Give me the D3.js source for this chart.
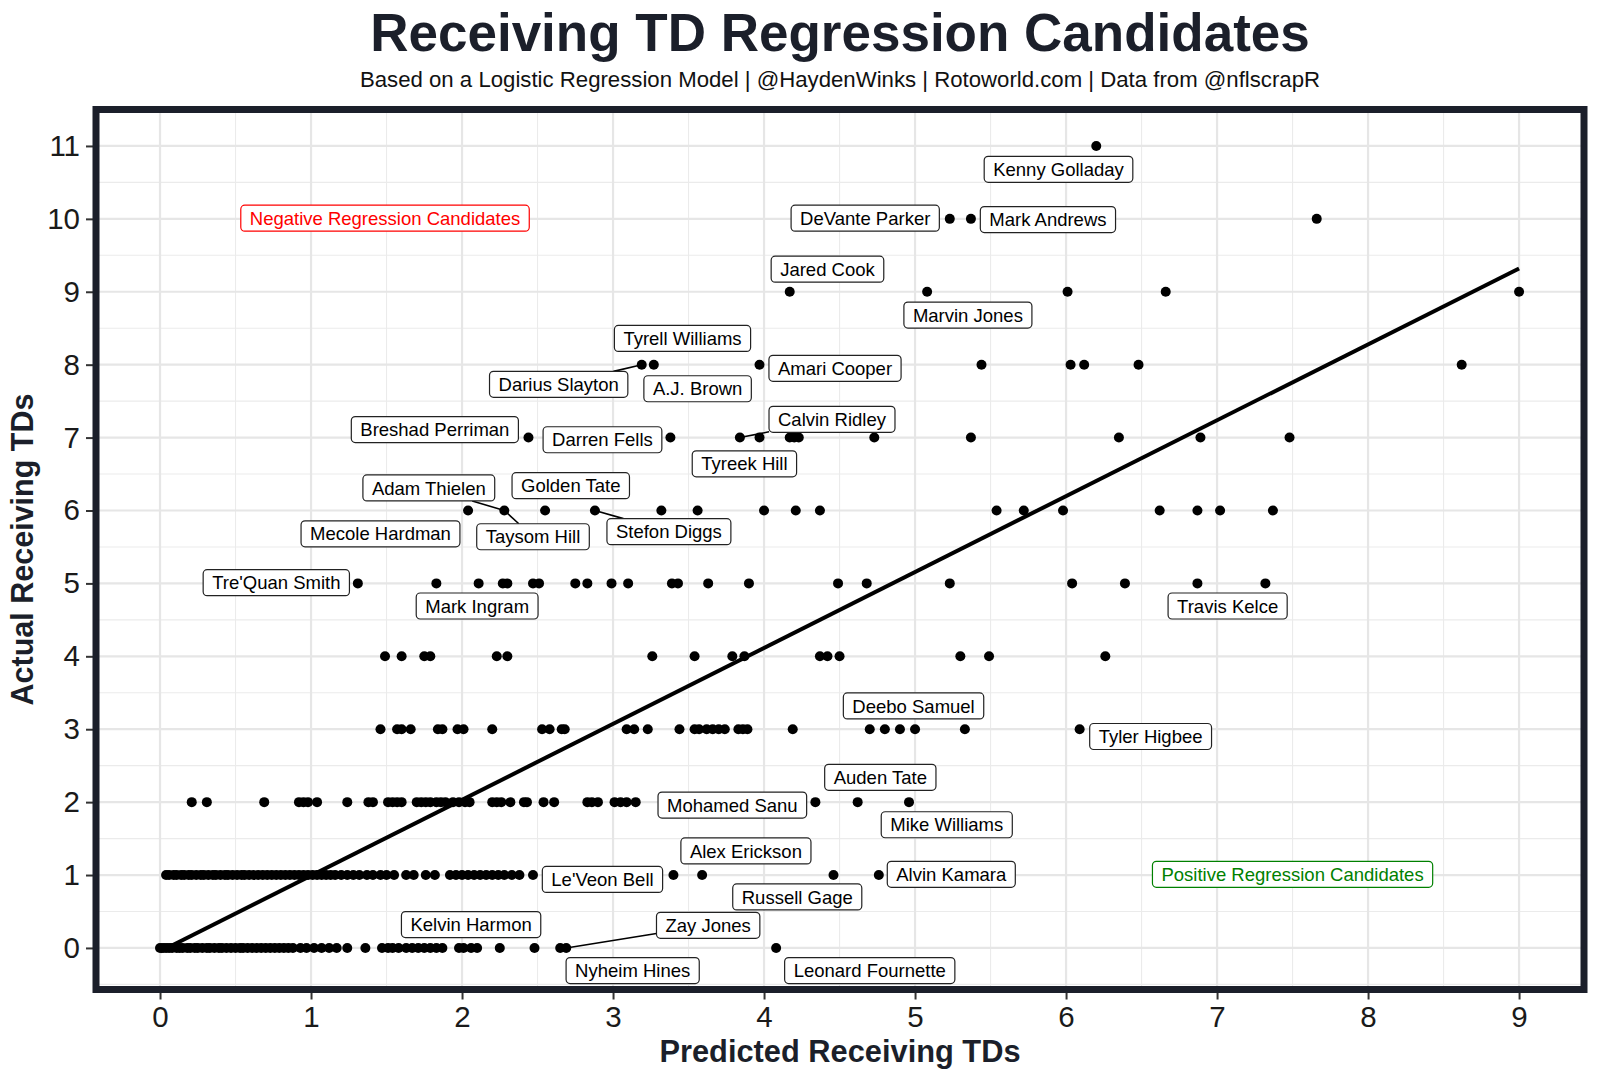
<!DOCTYPE html>
<html>
<head>
<meta charset="utf-8">
<script src="https://cdn.jsdelivr.net/npm/d3@7"></script>
<style>
body { margin: 0; background: #fff; }
text { font-family: "Liberation Sans", Arial, Helvetica, sans-serif; }
</style>
</head>
<body>
<svg id="chart" width="1600" height="1080"></svg>
<script>
// predicted receiving TDs, one list per actual TD count
var pred0 = [0.00,0.02,0.04,0.06,0.08,0.11,0.13,0.15,0.18,0.20,0.23,0.25,0.28,0.31,0.33,0.36,0.39,0.41,0.44,0.47,0.50,0.53,0.55,0.58,0.61,0.64,0.67,0.70,0.73,0.76,0.79,0.82,0.85,0.88,0.93,0.97,1.02,1.07,1.12,1.17,1.24,1.36,1.47,1.51,1.54,1.58,1.63,1.67,1.71,1.75,1.79,1.83,1.87,1.98,2.01,2.06,2.10,2.25,2.48,2.65,2.69,4.08];
var pred1 = [0.04,0.06,0.09,0.11,0.14,0.16,0.19,0.21,0.24,0.27,0.29,0.32,0.35,0.37,0.40,0.43,0.45,0.48,0.51,0.54,0.56,0.59,0.62,0.65,0.68,0.71,0.74,0.77,0.80,0.83,0.86,0.89,0.92,0.95,0.98,1.01,1.04,1.07,1.10,1.13,1.16,1.20,1.24,1.28,1.32,1.37,1.41,1.46,1.50,1.55,1.63,1.68,1.76,1.82,1.92,1.96,2.00,2.04,2.08,2.12,2.16,2.20,2.24,2.28,2.33,2.38,2.47,3.40,3.59,4.46,4.76];
var pred2 = [0.21,0.31,0.69,0.92,0.95,0.98,1.04,1.24,1.38,1.41,1.51,1.54,1.57,1.60,1.70,1.73,1.76,1.79,1.83,1.86,1.89,1.94,1.98,2.02,2.05,2.20,2.23,2.26,2.32,2.41,2.43,2.54,2.61,2.83,2.86,2.90,3.01,3.05,3.09,3.15,4.34,4.62,4.96];
var pred3 = [1.46,1.57,1.60,1.66,1.84,1.87,1.97,2.01,2.20,2.53,2.58,2.66,2.68,3.09,3.14,3.23,3.44,3.54,3.57,3.62,3.66,3.70,3.74,3.83,3.86,3.89,4.19,4.70,4.80,4.90,5.00,5.33,6.09];
var pred4 = [1.49,1.60,1.75,1.79,2.23,2.30,3.26,3.54,3.79,3.87,4.37,4.42,4.50,5.30,5.49,6.26];
var pred5 = [1.31,1.83,2.11,2.27,2.30,2.47,2.51,2.75,2.83,2.99,3.10,3.39,3.43,3.63,3.90,4.49,4.68,5.23,6.04,6.39,6.87,7.32];
var pred6 = [2.04,2.28,2.55,2.88,3.32,3.56,4.00,4.21,4.37,5.54,5.72,5.98,6.62,6.87,7.02,7.37];
var pred7 = [2.44,3.38,3.84,3.97,4.17,4.20,4.23,4.73,5.37,6.35,6.89,7.48];
var pred8 = [3.19,3.27,3.97,5.44,6.03,6.12,6.48,8.62];
var pred9 = [4.17,5.08,6.01,6.66,9.00];
var pred10 = [5.23,5.37,7.66];
var pred11 = [6.20];
var predByActual = [pred0,pred1,pred2,pred3,pred4,pred5,pred6,pred7,pred8,pred9,pred10,pred11];

// fitted line (ends of the lm fit)
var fitX = [0.00, 9.00];
var fitY = [-0.05, 9.32];

// player labels (data units of the label centre)
var labelNames = ["Kenny Golladay","DeVante Parker","Mark Andrews","Jared Cook","Marvin Jones","Tyrell Williams","Darius Slayton","A.J. Brown","Amari Cooper","Breshad Perriman","Darren Fells","Calvin Ridley","Tyreek Hill","Adam Thielen","Golden Tate","Mecole Hardman","Taysom Hill","Stefon Diggs","Tre'Quan Smith","Mark Ingram","Travis Kelce","Deebo Samuel","Tyler Higbee","Auden Tate","Mohamed Sanu","Mike Williams","Alex Erickson","Le'Veon Bell","Alvin Kamara","Russell Gage","Kelvin Harmon","Zay Jones","Nyheim Hines","Leonard Fournette"];
var labelX = [5.95,4.67,5.88,4.42,5.35,3.46,2.64,3.56,4.47,1.82,2.93,4.45,3.87,1.78,2.72,1.46,2.47,3.37,0.77,2.10,7.07,4.99,6.56,4.77,3.79,5.21,3.88,2.93,5.24,4.22,2.06,3.63,3.13,4.70];
var labelY = [10.68,10.01,9.99,9.31,8.68,8.36,7.73,7.67,7.95,7.11,6.97,7.25,6.64,6.31,6.34,5.68,5.64,5.71,5.01,4.69,4.69,3.32,2.90,2.34,1.96,1.69,1.33,0.94,1.01,0.70,0.32,0.31,-0.31,-0.31];

// labels that get a leader segment, and their points
var segNames = ["Darius Slayton","Calvin Ridley","Adam Thielen","Taysom Hill","Stefon Diggs","Zay Jones"];
var segX = [3.19,3.84,2.28,2.28,2.88,2.69];
var segY = [8,7,6,6,6,0];

// region notes
var noteText = ["Negative Regression Candidates","Positive Regression Candidates"];
var noteX = [1.49, 7.50];
var noteY = [10.01, 1.01];
var noteColor = ["#ff0000", "#008000"];

var xTicks = [0,1,2,3,4,5,6,7,8,9];
var yTicks = [0,1,2,3,4,5,6,7,8,9,10,11];

var ink = "#1b1f2a";
var panel = {left: 96, right: 1584, top: 109.5, bottom: 989.5};

var svg = d3.select("#chart");

var x = d3.scaleLinear().domain([-0.424, 9.43]).range([panel.left, panel.right]);
var y = d3.scaleLinear().domain([-0.57, 11.5]).range([panel.bottom, panel.top]);

// TITLE
svg.append("text")
    .attr("x", (panel.left + panel.right) / 2)
    .attr("y", 51)
    .attr("text-anchor", "middle")
    .attr("font-size", 53)
    .attr("font-weight", "bold")
    .attr("fill", ink)
    .text("Receiving TD Regression Candidates");

svg.append("text")
    .attr("x", (panel.left + panel.right) / 2)
    .attr("y", 87)
    .attr("text-anchor", "middle")
    .attr("font-size", 22.2)
    .attr("fill", "#111")
    .text("Based on a Logistic Regression Model | @HaydenWinks | Rotoworld.com | Data from @nflscrapR");

// GRID
var grid = svg.append("g");
var xMinor = d3.range(-0.5, 10, 1).filter(function (v) { return v > x.domain()[0] && v < x.domain()[1]; });
var yMinor = d3.range(-0.5, 12, 1).filter(function (v) { return v > y.domain()[0] && v < y.domain()[1]; });

grid.selectAll(".xminor").data(xMinor).enter().append("line")
    .attr("x1", function (d) { return x(d); }).attr("x2", function (d) { return x(d); })
    .attr("y1", panel.top).attr("y2", panel.bottom)
    .attr("stroke", "#ebebeb").attr("stroke-width", 1.1);
grid.selectAll(".yminor").data(yMinor).enter().append("line")
    .attr("y1", function (d) { return y(d); }).attr("y2", function (d) { return y(d); })
    .attr("x1", panel.left).attr("x2", panel.right)
    .attr("stroke", "#ebebeb").attr("stroke-width", 1.1);
grid.selectAll(".xmajor").data(xTicks).enter().append("line")
    .attr("x1", function (d) { return x(d); }).attr("x2", function (d) { return x(d); })
    .attr("y1", panel.top).attr("y2", panel.bottom)
    .attr("stroke", "#e6e6e6").attr("stroke-width", 2.2);
grid.selectAll(".ymajor").data(yTicks).enter().append("line")
    .attr("y1", function (d) { return y(d); }).attr("y2", function (d) { return y(d); })
    .attr("x1", panel.left).attr("x2", panel.right)
    .attr("stroke", "#e6e6e6").attr("stroke-width", 2.2);

// POINTS
var points = [];
predByActual.forEach(function (row, td) {
    row.forEach(function (p) { points.push({pred: p, td: td}); });
});

var plot = svg.append("g");
plot.selectAll("circle").data(points).enter().append("circle")
    .attr("cx", function (d) { return x(d.pred); })
    .attr("cy", function (d) { return y(d.td); })
    .attr("r", 5)
    .attr("fill", "#000");

// FIT LINE
var line = d3.line().x(function (d) { return x(d[0]); }).y(function (d) { return y(d[1]); });
plot.append("path")
    .datum(d3.zip(fitX, fitY))
    .attr("d", line)
    .attr("fill", "none")
    .attr("stroke", "#000")
    .attr("stroke-width", 4);

// LABELS
var labelFont = 18.5, padX = 9, boxH = 26;

function make_label(g, txt, cx, cy, color, border) {
    var t = g.append("text")
        .attr("x", cx).attr("y", cy)
        .attr("dy", "0.36em")
        .attr("text-anchor", "middle")
        .attr("font-size", labelFont)
        .attr("fill", color)
        .text(txt);
    var w = t.node().getComputedTextLength() + padX * 2;
    var box = {x0: cx - w / 2, x1: cx + w / 2, y0: cy - boxH / 2, y1: cy + boxH / 2};
    g.insert("rect", "text")
        .attr("x", box.x0).attr("y", box.y0)
        .attr("width", w).attr("height", boxH)
        .attr("rx", 4)
        .attr("fill", "#fff")
        .attr("stroke", border)
        .attr("stroke-width", 1.2);
    return box;
}

var segLayer = svg.append("g");
var labelLayer = svg.append("g");

labelNames.forEach(function (name, i) {
    var cx = x(labelX[i]), cy = y(labelY[i]);
    var g = labelLayer.append("g");
    var box = make_label(g, name, cx, cy, "#000", "#222");

    var k = segNames.indexOf(name);
    if (k < 0) return;
    // segment from point toward label centre, stopped at the box edge
    var px = x(segX[k]), py = y(segY[k]);
    var dx = cx - px, dy = cy - py;
    var t = 1;
    if (dx !== 0) {
        var ex = dx > 0 ? box.x0 : box.x1;
        var tx = (ex - px) / dx;
        var yy = py + tx * dy;
        if (tx > 0 && yy >= box.y0 && yy <= box.y1) t = Math.min(t, tx);
    }
    if (dy !== 0) {
        var ey = dy > 0 ? box.y0 : box.y1;
        var ty = (ey - py) / dy;
        var xx = px + ty * dx;
        if (ty > 0 && xx >= box.x0 && xx <= box.x1) t = Math.min(t, ty);
    }
    segLayer.append("line")
        .attr("x1", px).attr("y1", py)
        .attr("x2", px + t * dx).attr("y2", py + t * dy)
        .attr("stroke", "#000").attr("stroke-width", 1.6);
});

noteText.forEach(function (txt, i) {
    var g = labelLayer.append("g");
    make_label(g, txt, x(noteX[i]), y(noteY[i]), noteColor[i], noteColor[i]);
});

// AXES
var tickFont = 29.5;
var xAxis = svg.append("g")
    .attr("transform", "translate(0," + panel.bottom + ")")
    .call(d3.axisBottom(x).tickValues(xTicks).tickFormat(d3.format("d")).tickSize(10).tickPadding(6.5));
var yAxis = svg.append("g")
    .attr("transform", "translate(" + panel.left + ",0)")
    .call(d3.axisLeft(y).tickValues(yTicks).tickFormat(d3.format("d")).tickSize(10).tickPadding(6));

[xAxis, yAxis].forEach(function (a) {
    a.select(".domain").remove();
    a.selectAll(".tick line").attr("stroke", "#333").attr("stroke-width", 2);
    a.selectAll(".tick text")
        .attr("font-size", tickFont)
        .attr("fill", "#1a1a1a")
        .style("font-family", '"Liberation Sans", Arial, sans-serif');
});

// PANEL BORDER (on top of ticks)
svg.append("rect")
    .attr("x", panel.left).attr("y", panel.top)
    .attr("width", panel.right - panel.left)
    .attr("height", panel.bottom - panel.top)
    .attr("fill", "none")
    .attr("stroke", ink)
    .attr("stroke-width", 7);

svg.append("text")
    .attr("x", (panel.left + panel.right) / 2)
    .attr("y", 1062)
    .attr("text-anchor", "middle")
    .attr("font-size", 30.8)
    .attr("font-weight", "bold")
    .attr("fill", ink)
    .text("Predicted Receiving TDs");

svg.append("text")
    .attr("transform", "translate(33," + (panel.top + panel.bottom) / 2 + ") rotate(-90)")
    .attr("text-anchor", "middle")
    .attr("font-size", 30.5)
    .attr("font-weight", "bold")
    .attr("fill", ink)
    .text("Actual Receiving TDs");
</script>
</body>
</html>
